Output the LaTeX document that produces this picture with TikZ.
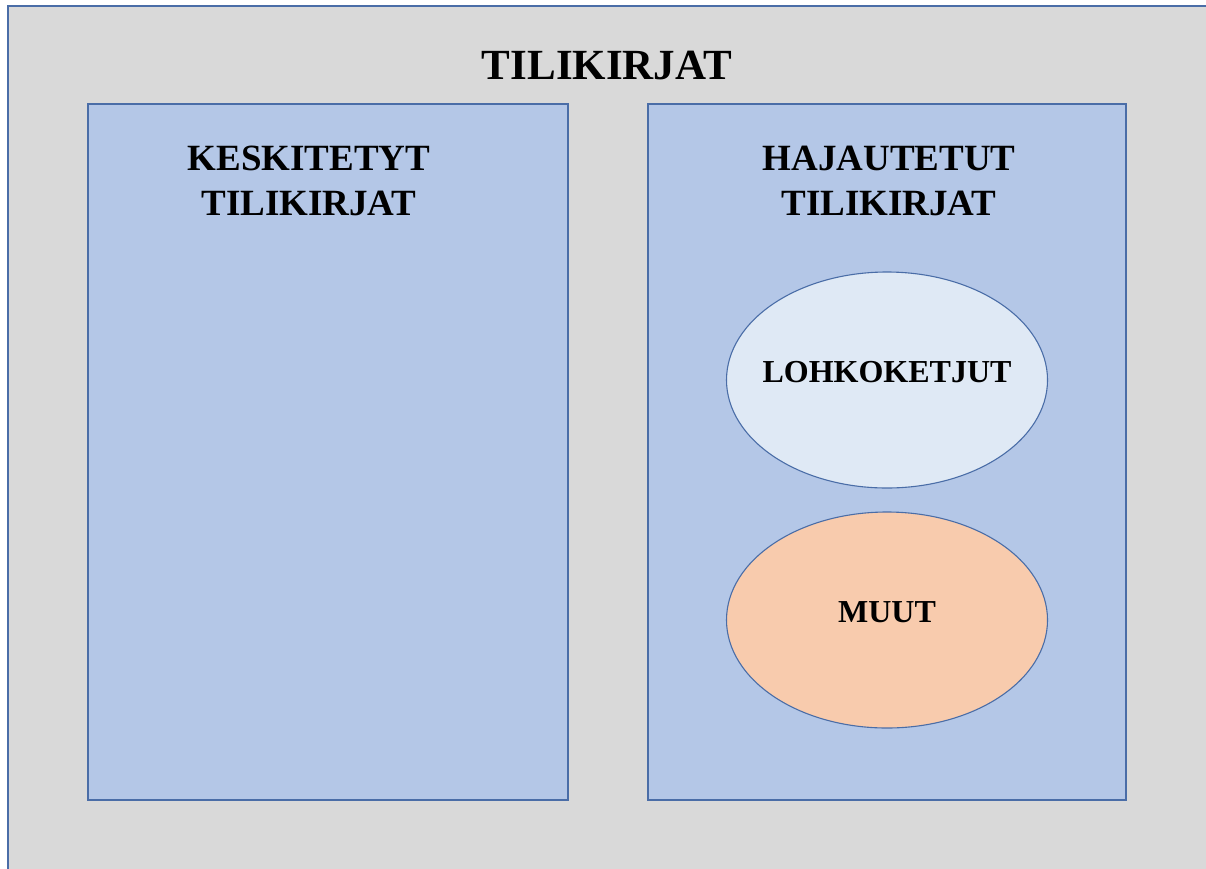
\documentclass[tikz,border=0pt]{standalone}
\usepackage{fontspec}
\setmainfont{Liberation Serif}
\usetikzlibrary{shapes.geometric}
\definecolor{bggray}{HTML}{D9D9D9}
\definecolor{boxblue}{HTML}{B4C7E7}
\definecolor{edgeblue}{HTML}{4A6DA7}
\definecolor{lightblue}{HTML}{DFE9F5}
\definecolor{peach}{HTML}{F8CBAD}
\tikzset{
  panel/.style={draw=edgeblue, line width=1.6pt, fill=boxblue},
  oval/.style={ellipse, draw=edgeblue, line width=1.1pt, minimum width=321pt, minimum height=216pt, inner sep=0pt},
  lbl/.style={font=\bfseries\fontsize{37}{45}\selectfont, align=center, text=black},
  olbl/.style={font=\bfseries\fontsize{32}{38}\selectfont, text=black},
}
\begin{document}
\begin{tikzpicture}[x=1pt,y=-1pt]
\useasboundingbox (0,0) rectangle (1206,868);
\begin{scope}
\clip (0,0) rectangle (1206,868);
\fill[white] (0,0) rectangle (1206,868);
\draw[draw=edgeblue, line width=2pt, fill=bggray] (8,6) rectangle (1230,900);
\end{scope}
\node[font=\bfseries\fontsize{43}{50}\selectfont] (title) at (607,66) {TILIKIRJAT};
\draw[panel] (88,104) rectangle (568,800);
\coordinate (lbox) at (309,181);
\draw[panel] (648,104) rectangle (1126,800);
\coordinate (rbox) at (889,181);
\node[lbl] (ltext) at (lbox) {KESKITETYT\\TILIKIRJAT};
\node[lbl] (rtext) at (rbox) {HAJAUTETUT\\TILIKIRJAT};
\node[oval, fill=lightblue] (lohko) at (887,380) {};
\node[olbl] at ([yshift=8pt]lohko.center) {LOHKOKETJUT};
\node[oval, fill=peach] (muut) at (887,620) {};
\node[olbl] at ([yshift=8pt]muut.center) {MUUT};
\end{tikzpicture}
\end{document}
